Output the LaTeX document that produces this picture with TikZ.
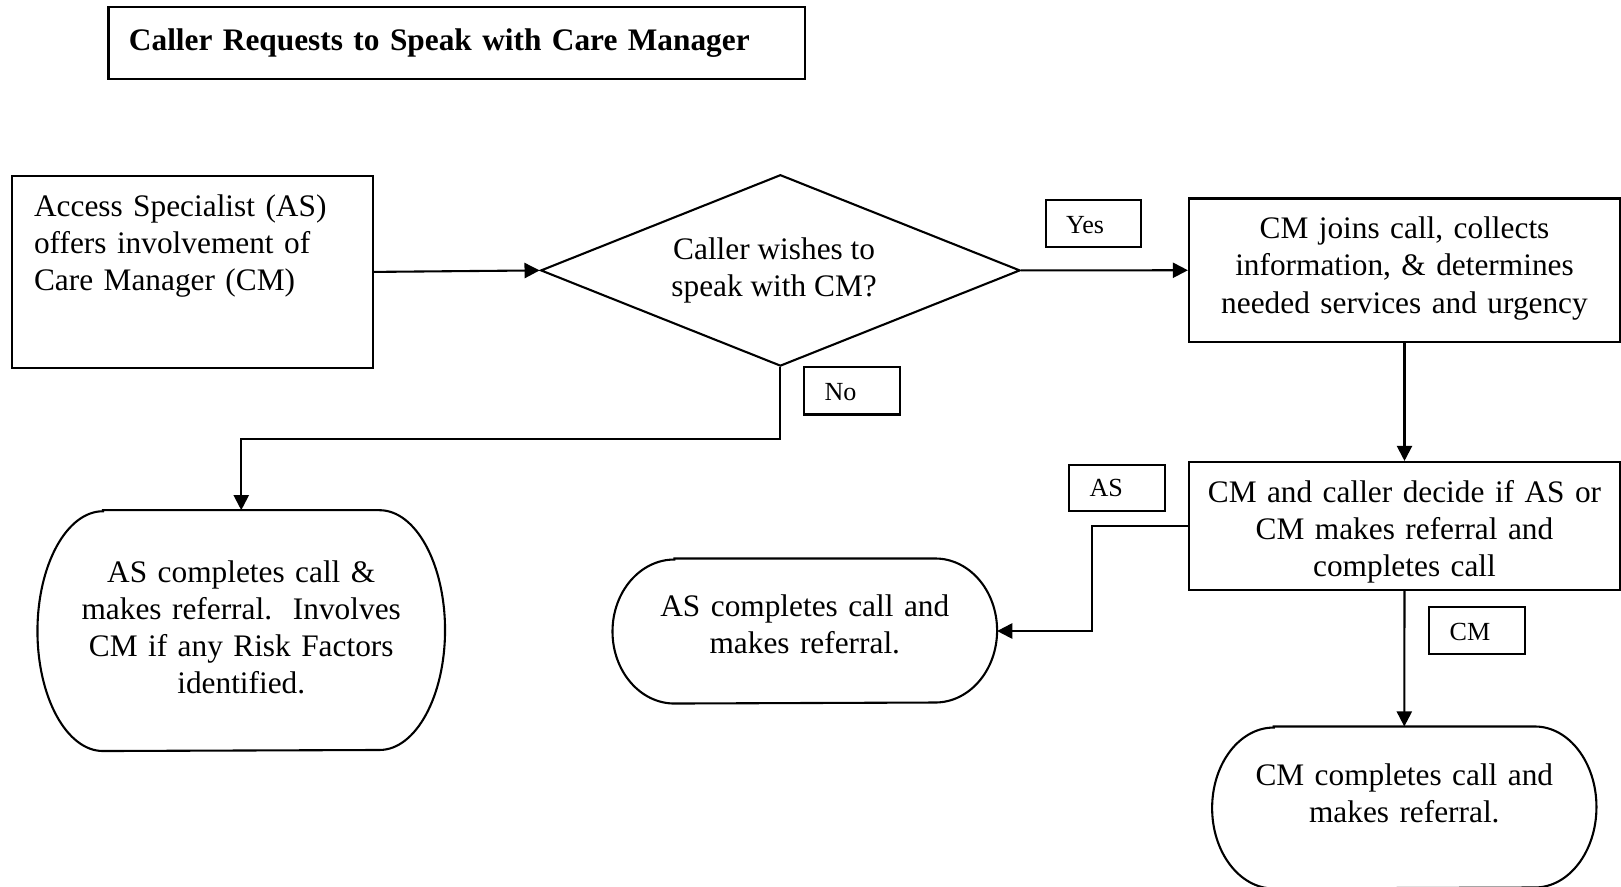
\documentclass[tikz,border=0pt]{standalone}
\usepackage{fontspec}
\setmainfont{Liberation Serif}
\usetikzlibrary{arrows.meta,shapes.geometric,calc}
\newcommand\termpath[3]{%
  \draw[shapeline] ([xshift=#2]#1.north west) -- ([xshift=-#2]#1.north east)
    arc[start angle=90, end angle=-90, x radius=#2, y radius=#3]
    -- ([xshift=#2]#1.south west)
    arc[start angle=270, end angle=90, x radius=#2, y radius=#3] -- cycle;}
\begin{document}
\begin{tikzpicture}[x=0.383pt,y=0.383pt,
  shapeline/.style={draw=black,line width=0.8pt},
  body/.style={font=\fontsize{12pt}{14.2pt}\selectfont},
  boxnode/.style={shapeline,body,rectangle,inner sep=0pt,align=center},
  tagbox/.style={shapeline,rectangle,font=\fontsize{10pt}{12pt}\selectfont,align=left,
    inner xsep=7.8pt,inner ysep=0pt,text width=21pt,text height=12.9pt,text depth=5.3pt},
  termnode/.style={body,inner sep=0pt,align=center},
  conn/.style={line width=0.8pt,-{Triangle[length=5.8pt,width=5.8pt]}}
]
\useasboundingbox (0,0) rectangle (1621,-886);

\node[shapeline, rectangle, font=\bfseries\fontsize{12pt}{14.2pt}\selectfont,
  minimum height=27.4pt, inner xsep=7.85pt, inner ysep=0pt, text width=251.1pt, align=left]
  (title) at (456.8,-42.8) {Caller Requests to Speak with Care Manager};

\node[shapeline, body, rectangle, anchor=north, inner xsep=8.3pt, inner ysep=0pt,
  text width=121.5pt, align=left, text height=15.47pt, text depth=58.18pt]
  (asbox) at (192.7,-174.7) {Access Specialist (AS)\\offers involvement of\\Care Manager (CM)};

\node[shapeline, body, diamond, inner sep=0pt, minimum width=183.6pt, minimum height=73.3pt,
  align=center, shape aspect=2.5] (dec) at (780.4,-270.4)
  {\hspace*{-4.8pt}Caller wishes to\\\hspace*{-4.8pt}speak with CM?};

\node[boxnode, text width=165.1pt, text height=15.47pt, text depth=39.49pt] (cmj) at (1404.5,-270.25)
  {CM joins call, collects\\information, \& determines\\needed services and urgency};

\node[boxnode, text width=165.1pt, text height=15.51pt, text depth=33.51pt] (cmd) at (1404.5,-526)
  {CM and caller decide if AS or\\CM makes referral and\\completes call};

\node[termnode, text width=155.7pt, text height=27.35pt, text depth=64.49pt] (t1) at (241.25,-630.6)
  {AS completes call \&\\makes referral.\ \ Involves\\CM if any Risk Factors\\identified.};
\termpath{t1}{25.1pt}{45.92pt}

\node[termnode, text width=146.9pt, text height=21.9pt, text depth=33.25pt] (t2) at (804.8,-631)
  {AS completes call and\\makes referral.};
\termpath{t2}{23.7pt}{27.58pt}

\node[termnode, text width=146.8pt, text height=22.5pt, text depth=39.16pt] (t3) at (1404.3,-807.5)
  {CM completes call and\\makes referral.};
\termpath{t3}{23.6pt}{30.83pt}

\node[tagbox] (yes) at (1093.5,-223.3) {Yes};
\node[tagbox] (no) at (852,-390.75) {No};
\node[tagbox, text height=12.2pt] (as) at (1117,-487.9) {AS};
\node[tagbox] (cm) at (1477,-630.5) {CM};

\draw[conn] (asbox.east) -- (dec.west);
\draw[conn] (dec.east) -- (cmj.west);
\draw[conn] (dec.south) -- ++(0,-72) -| (t1.north);
\draw[conn] (cmj.south) -- (cmd.north);
\draw[conn] (cmd.west) -- ++(-96,0) |- (t2.east);
\draw[conn] (cmd.south) -- (t3.north);
\end{tikzpicture}
\end{document}
